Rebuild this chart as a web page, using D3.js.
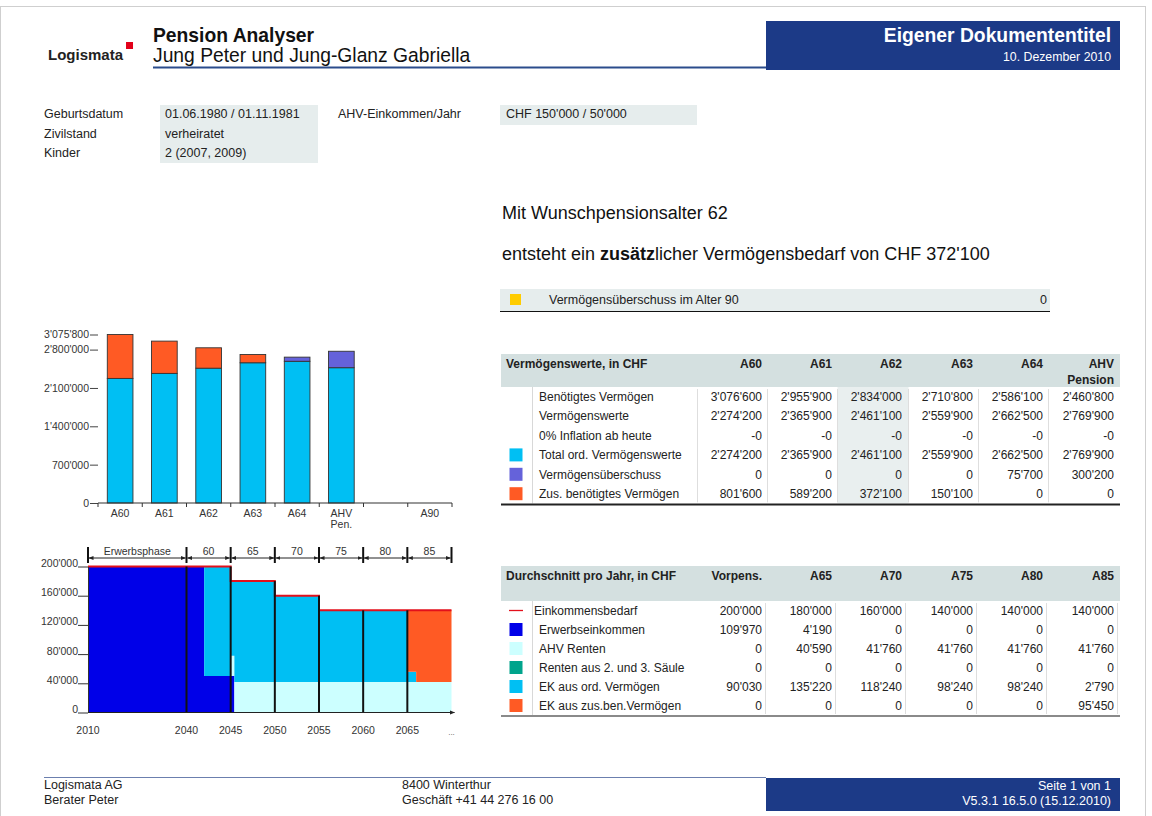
<!DOCTYPE html>
<html>
<head>
<meta charset="utf-8">
<script src="https://cdn.jsdelivr.net/npm/d3@7"></script>
<style>
  body { margin: 0; background: #fff; }
  svg { display: block; font-family: "Liberation Sans", Arial, Helvetica, sans-serif; }
</style>
</head>
<body>
<div id="page"></div>
<script>
// ---------- data ----------
const personLabels = ['Geburtsdatum', 'Zivilstand', 'Kinder'];
const personValues = ['01.06.1980 / 01.11.1981', 'verheiratet', '2 (2007, 2009)'];
const incomeLabel = 'AHV-Einkommen/Jahr';
const incomeValue = "CHF 150'000 / 50'000";

// asset table (Vermögenswerte)
const assetCols = [['A60'], ['A61'], ['A62'], ['A63'], ['A64'], ['AHV', 'Pension']];
const assetNeeded = [3076600, 2955900, 2834000, 2710800, 2586100, 2460800];
const assetValues = [2274200, 2365900, 2461100, 2559900, 2662500, 2769900];
const assetInflation = [-0, -0, -0, -0, -0, -0];
const assetTotalOrd = [2274200, 2365900, 2461100, 2559900, 2662500, 2769900];
const assetSurplus = [0, 0, 0, 0, 75700, 300200];
const assetAdditional = [801600, 589200, 372100, 150100, 0, 0];

// bar chart categories
const barLabels = [['A60'], ['A61'], ['A62'], ['A63'], ['A64'], ['AHV', 'Pen.'], [''], ['A90']];

// yearly averages table
const avgCols = [['Vorpens.'], ['A65'], ['A70'], ['A75'], ['A80'], ['A85']];
const avgNeed = [200000, 180000, 160000, 140000, 140000, 140000];
const avgErwerb = [109970, 4190, 0, 0, 0, 0];
const avgAhv = [0, 40590, 41760, 41760, 41760, 41760];
const avgRenten = [0, 0, 0, 0, 0, 0];
const avgEkOrd = [90030, 135220, 118240, 98240, 98240, 2790];
const avgEkZus = [0, 0, 0, 0, 0, 95450];

// income flow over time (step values)
const flowYears  = [2010, 2042, 2045, 2045.42, 2050, 2055, 2065, 2066, 2070];
const flowNeed   = [200000, 200000, 180000, 180000, 160000, 140000, 140000, 140000, 140000];
const flowErwerb = [200000, 50000, 50000, 0, 0, 0, 0, 0, 0];
const flowAhv    = [0, 0, 27800, 41760, 41760, 41760, 41760, 41760, 41760];
const flowRenten = [0, 0, 0, 0, 0, 0, 0, 0, 0];
const flowEkOrd  = [0, 150000, 102200, 138240, 118240, 98240, 13950, 0, 0];
const flowEkZus  = [0, 0, 0, 0, 0, 0, 84290, 98240, 98240];

const phaseLabels = ['Erwerbsphase', '60', '65', '70', '75', '80', '85'];
const phaseBounds = [2010, 2040, 2045, 2050, 2055, 2060, 2065, 2070];
const dividerYears = [2040, 2045, 2050, 2055, 2060, 2065];
const flowTickYears = [2010, 2040, 2045, 2050, 2055, 2060, 2065];

// colours
const colors = {
    navy: '#1c3a87',
    erwerb: '#0000e8',
    ahv: '#ccffff',
    renten: '#00a48c',
    ekOrd: '#00bff3',
    ekZus: '#ff5a24',
    surplus: '#6562da',
    need: '#e3101b',
    yellow: '#ffcc00',
    headGrey: '#d4e0e0',
    boxGrey: '#e6eded'
};

const baseFmt = d3.formatLocale({decimal: '.', thousands: "'", grouping: [3], currency: ['', ''], minus: '-'}).format(',');
// keep the "-0" that the report prints for negative zero
const fmt = v => (Object.is(v, -0) ? '-0' : baseFmt(v));

// ---------- page ----------
const svg = d3.select('#page').append('svg')
    .attr('width', 1152)
    .attr('height', 816);

svg.append('rect').attr('x', 0.5).attr('y', 6.5).attr('width', 1145).attr('height', 815)
    .attr('fill', '#fff').attr('stroke', '#cfcfcf');

// header
const logo = svg.append('text').attr('x', 48).attr('y', 60).attr('font-size', 15).attr('font-weight', 'bold')
    .attr('fill', '#222').text('Logismata');
const logoEnd = 48 + logo.node().getComputedTextLength();
svg.append('rect').attr('x', logoEnd + 3).attr('y', 42).attr('width', 7).attr('height', 7).attr('fill', '#e2001a');
svg.append('text').attr('x', 153).attr('y', 42).attr('font-size', 19.3).attr('font-weight', 'bold')
    .attr('fill', '#111').text('Pension Analyser');
svg.append('text').attr('x', 153).attr('y', 61.5).attr('font-size', 19.3)
    .attr('fill', '#111').text('Jung Peter und Jung-Glanz Gabriella');
svg.append('line').attr('x1', 153).attr('x2', 766).attr('y1', 67.5).attr('y2', 67.5)
    .attr('stroke', '#2b4c8c').attr('stroke-width', 2);
svg.append('rect').attr('x', 766).attr('y', 21).attr('width', 354).attr('height', 49).attr('fill', colors.navy);
svg.append('text').attr('x', 1111).attr('y', 42).attr('text-anchor', 'end').attr('font-size', 19.3)
    .attr('font-weight', 'bold').attr('fill', '#fff').text('Eigener Dokumententitel');
svg.append('text').attr('x', 1111).attr('y', 61).attr('text-anchor', 'end').attr('font-size', 12.3)
    .attr('fill', '#fff').text('10. Dezember 2010');

// personal data
svg.append('rect').attr('x', 160).attr('y', 105).attr('width', 158).attr('height', 58).attr('fill', colors.boxGrey);
svg.append('rect').attr('x', 500).attr('y', 105).attr('width', 197).attr('height', 20).attr('fill', colors.boxGrey);
const personG = svg.append('g').attr('font-size', 12.5).attr('fill', '#222');
personLabels.forEach((l, i) => {
    personG.append('text').attr('x', 44).attr('y', 118 + i * 19.5).text(l);
    personG.append('text').attr('x', 165).attr('y', 118 + i * 19.5).text(personValues[i]);
});
personG.append('text').attr('x', 338).attr('y', 118).text(incomeLabel);
personG.append('text').attr('x', 506).attr('y', 118).text(incomeValue);

// summary text
svg.append('text').attr('x', 502).attr('y', 219).attr('font-size', 18).attr('fill', '#111')
    .text('Mit Wunschpensionsalter 62');
const summary = svg.append('text').attr('x', 502).attr('y', 260).attr('font-size', 18).attr('fill', '#111');
summary.append('tspan').text('entsteht ein ');
summary.append('tspan').attr('font-weight', 'bold').text('zusätz');
summary.append('tspan').text("licher Vermögensbedarf von CHF " + fmt(assetAdditional[2]));

svg.append('rect').attr('x', 500).attr('y', 289).attr('width', 550).attr('height', 22).attr('fill', colors.boxGrey);
svg.append('line').attr('x1', 500).attr('x2', 1050).attr('y1', 311.5).attr('y2', 311.5).attr('stroke', '#111').attr('stroke-width', 1.2);
svg.append('rect').attr('x', 510).attr('y', 294).attr('width', 11).attr('height', 11).attr('fill', colors.yellow);
svg.append('text').attr('x', 549).attr('y', 304).attr('font-size', 12.5).attr('fill', '#222').text('Vermögensüberschuss im Alter 90');
svg.append('text').attr('x', 1047).attr('y', 304).attr('text-anchor', 'end').attr('font-size', 12.5).attr('fill', '#222').text(fmt(0));

// ---------- top bar chart ----------
const barRows = barLabels.map((l, i) => ({
    base: i < assetTotalOrd.length ? assetTotalOrd[i] - assetSurplus[i] : 0,
    surplus: i < assetSurplus.length ? assetSurplus[i] : 0,
    additional: i < assetAdditional.length ? assetAdditional[i] : 0
}));
const barKeys = ['base', 'surplus', 'additional'];
const barColors = {base: colors.ekOrd, surplus: colors.surplus, additional: colors.ekZus};

const barX = d3.scaleBand().domain(d3.range(barLabels.length)).range([98, 452])
    .paddingInner(0.42).paddingOuter(0.21);
const barMax = d3.max(barRows, d => d.base + d.surplus + d.additional);
const barY = d3.scaleLinear().domain([0, barMax]).range([503, 334.5]);

const barG = svg.append('g');
const barStack = d3.stack().keys(barKeys)(barRows);
barStack.forEach(layer => {
    barG.append('g').selectAll('rect')
        .data(layer.map((d, i) => ({d, i})).filter(o => o.d[1] - o.d[0] > 0))
        .join('rect')
        .attr('x', o => barX(o.i))
        .attr('width', barX.bandwidth())
        .attr('y', o => barY(o.d[1]))
        .attr('height', o => barY(o.d[0]) - barY(o.d[1]))
        .attr('fill', barColors[layer.key])
        .attr('stroke', '#333')
        .attr('stroke-width', 0.9);
});

const barYAxis = barG.append('g').attr('transform', 'translate(98,0)')
    .call(d3.axisLeft(barY)
        .tickValues([0, 700000, 1400000, 2100000, 2800000, barMax])
        .tickFormat(fmt).tickSize(8).tickPadding(1));
barYAxis.select('.domain').remove();
barYAxis.selectAll('text').attr('font-size', 10.5).attr('fill', '#333').attr('font-family', null);
barYAxis.selectAll('line').attr('stroke', '#444');

const step = barX.step();
const barBase = barX.range()[0];
barG.append('line').attr('x1', barBase).attr('x2', barX.range()[1]).attr('y1', 503).attr('y2', 503)
    .attr('stroke', '#333').attr('stroke-width', 1.2);
barG.selectAll('.btick').data(d3.range(barLabels.length + 1)).join('line')
    .attr('x1', i => barBase + i * step).attr('x2', i => barBase + i * step)
    .attr('y1', 503).attr('y2', 507).attr('stroke', '#333');
barLabels.forEach((lines, i) => {
    const t = barG.append('text').attr('text-anchor', 'middle').attr('font-size', 10.5).attr('fill', '#333');
    lines.forEach((s, k) => t.append('tspan')
        .attr('x', barX(i) + barX.bandwidth() / 2).attr('y', 517 + k * 10.5).text(s));
});

// ---------- tables ----------
const colRights = [762, 832, 902, 973, 1043, 1114];
const colBounds = [697, 767, 837, 908, 978, 1048];

function drawTable(cfg) {
    const g = svg.append('g').attr('font-size', 12).attr('fill', '#222');
    const bodyTop = cfg.top + cfg.headH;
    const bottom = bodyTop + cfg.rows.length * cfg.rowH;
    g.append('rect').attr('x', 501).attr('y', cfg.top).attr('width', 619).attr('height', cfg.headH)
        .attr('fill', colors.headGrey);
    if (cfg.highlight != null) {
        g.append('rect').attr('x', colBounds[cfg.highlight] + 0.5).attr('y', bodyTop)
            .attr('width', colBounds[cfg.highlight + 1] - colBounds[cfg.highlight]).attr('height', bottom - bodyTop)
            .attr('fill', '#e9efef');
    }
    g.append('text').attr('x', 506).attr('y', cfg.top + 14).attr('font-weight', 'bold').text(cfg.title);
    cfg.cols.forEach((lines, c) => {
        lines.forEach((s, k) => g.append('text').attr('x', colRights[c]).attr('y', cfg.top + 14 + k * 16)
            .attr('text-anchor', 'end').attr('font-weight', 'bold').text(s));
    });
    // separators
    g.append('line').attr('x1', 532.5).attr('x2', 532.5).attr('y1', bodyTop).attr('y2', bottom)
        .attr('stroke', '#d8d8d8');
    cfg.seps.forEach(x => g.append('line').attr('x1', x + 0.5).attr('x2', x + 0.5)
        .attr('y1', bodyTop + 2).attr('y2', bottom - 1).attr('stroke', '#dedede'));
    cfg.rows.forEach((r, i) => {
        const cy = bodyTop + i * cfg.rowH + cfg.rowH / 2;
        if (r.swatch) {
            g.append('rect').attr('x', 509.5).attr('y', cy - 6.5).attr('width', 13).attr('height', 13)
                .attr('fill', r.swatch);
        }
        if (r.lineSwatch) {
            g.append('line').attr('x1', 509).attr('x2', 523).attr('y1', cy).attr('y2', cy)
                .attr('stroke', r.lineSwatch).attr('stroke-width', 1.3);
        }
        g.append('text').attr('x', r.lineSwatch ? 534 : 539).attr('y', cy + 4.3).text(r.label);
        r.values.forEach((v, c) => g.append('text').attr('x', colRights[c]).attr('y', cy + 4.3)
            .attr('text-anchor', 'end').text(fmt(v)));
    });
    g.append('line').attr('x1', 501).attr('x2', 1120).attr('y1', bottom + 1).attr('y2', bottom + 1)
        .attr('stroke', cfg.bottomColor).attr('stroke-width', 2);
}

drawTable({
    top: 354, headH: 33, rowH: 19.4,
    title: 'Vermögenswerte, in CHF',
    cols: assetCols,
    highlight: 2,
    seps: colBounds,
    bottomColor: '#222',
    rows: [
        {label: 'Benötigtes Vermögen', values: assetNeeded},
        {label: 'Vermögenswerte', values: assetValues},
        {label: '0% Inflation ab heute', values: assetInflation},
        {label: 'Total ord. Vermögenswerte', values: assetTotalOrd, swatch: colors.ekOrd},
        {label: 'Vermögensüberschuss', values: assetSurplus, swatch: colors.surplus},
        {label: 'Zus. benötigtes Vermögen', values: assetAdditional, swatch: colors.ekZus}
    ]
});

drawTable({
    top: 566, headH: 35, rowH: 19,
    title: 'Durchschnitt pro Jahr, in CHF',
    cols: avgCols,
    highlight: null,
    seps: colRights.map(x => x + 3),
    bottomColor: '#8a8a8a',
    rows: [
        {label: 'Einkommensbedarf', values: avgNeed, lineSwatch: colors.need},
        {label: 'Erwerbseinkommen', values: avgErwerb, swatch: colors.erwerb},
        {label: 'AHV Renten', values: avgAhv, swatch: colors.ahv},
        {label: 'Renten aus 2. und 3. Säule', values: avgRenten, swatch: colors.renten},
        {label: 'EK aus ord. Vermögen', values: avgEkOrd, swatch: colors.ekOrd},
        {label: 'EK aus zus.ben.Vermögen', values: avgEkZus, swatch: colors.ekZus}
    ]
});

// ---------- income flow chart ----------
const flowRows = flowYears.map((yr, i) => ({
    year: yr, erwerb: flowErwerb[i], ahv: flowAhv[i], renten: flowRenten[i],
    ekOrd: flowEkOrd[i], ekZus: flowEkZus[i], need: flowNeed[i]
}));
const flowKeys = ['erwerb', 'ahv', 'renten', 'ekOrd', 'ekZus'];
const flowX = d3.scaleLinear().domain([2010, 2040, 2070]).range([88, 186.5, 451.5]);
const flowY = d3.scaleLinear().domain([0, 200000]).range([712.5, 566.5]);

const flowG = svg.append('g');
const flowArea = d3.area().curve(d3.curveStepAfter)
    .x(d => flowX(d.data.year)).y0(d => flowY(d[0])).y1(d => flowY(d[1]));
flowG.selectAll('.layer').data(d3.stack().keys(flowKeys)(flowRows)).join('path')
    .attr('d', flowArea)
    .attr('fill', d => colors[d.key]);

flowG.append('path').datum(flowRows)
    .attr('d', d3.line().curve(d3.curveStepAfter).x(d => flowX(d.year)).y(d => flowY(d.need)))
    .attr('fill', 'none').attr('stroke', colors.need).attr('stroke-width', 2);

const needBefore = yr => flowNeed[d3.bisectLeft(flowYears, yr) - 1];
const needFrom = yr => flowNeed[d3.bisectRight(flowYears, yr) - 1];
flowG.selectAll('.divider').data(dividerYears).join('line')
    .attr('x1', d => flowX(d)).attr('x2', d => flowX(d))
    .attr('y1', flowY(0)).attr('y2', d => flowY(Math.max(needBefore(d), needFrom(d))))
    .attr('stroke', '#111').attr('stroke-width', 2);

const flowYAxis = flowG.append('g').attr('transform', `translate(${flowX(2010)},0)`)
    .call(d3.axisLeft(flowY).tickValues(d3.range(0, 200001, 40000))
        .tickFormat(fmt).tickSize(10).tickSizeOuter(0).tickPadding(0));
flowYAxis.selectAll('text').attr('dy', 0).attr('font-size', 10.5).attr('fill', '#333').attr('font-family', null);
flowYAxis.selectAll('line,path').attr('stroke', '#333');

// x axis with arrow
svg.append('defs').append('marker').attr('id', 'arr').attr('viewBox', '0 0 10 10')
    .attr('refX', 9).attr('refY', 5).attr('markerWidth', 5).attr('markerHeight', 5)
    .attr('orient', 'auto-start-reverse')
    .append('path').attr('d', 'M0,1L10,5L0,9Z').attr('fill', '#222');
flowG.append('line').attr('x1', flowX(2010)).attr('x2', flowX(2070) + 3)
    .attr('y1', flowY(0)).attr('y2', flowY(0)).attr('stroke', '#222').attr('stroke-width', 1)
    .attr('marker-end', 'url(#arr)');
flowG.selectAll('.xl').data(flowTickYears).join('text')
    .attr('x', d => flowX(d)).attr('y', 734).attr('text-anchor', 'middle')
    .attr('font-size', 10.5).attr('fill', '#333').text(d => d);
flowG.append('text').attr('x', flowX(2070)).attr('y', 735).attr('text-anchor', 'middle')
    .attr('font-size', 8).attr('fill', '#555').text('...');

// phase header
const phaseG = svg.append('g');
phaseG.selectAll('line.pt').data(phaseBounds).join('line')
    .attr('x1', d => flowX(d)).attr('x2', d => flowX(d)).attr('y1', 547).attr('y2', 563)
    .attr('stroke', '#111').attr('stroke-width', 2);
phaseLabels.forEach((l, i) => {
    const a = flowX(phaseBounds[i]), b = flowX(phaseBounds[i + 1]);
    phaseG.append('line').attr('x1', a + 1).attr('x2', b - 1).attr('y1', 558).attr('y2', 558)
        .attr('stroke', '#222').attr('stroke-width', 1)
        .attr('marker-start', 'url(#arr)').attr('marker-end', 'url(#arr)');
    phaseG.append('text').attr('x', (a + b) / 2).attr('y', 555).attr('text-anchor', 'middle')
        .attr('font-size', 10.5).attr('fill', '#333').text(l);
});

// ---------- footer ----------
svg.append('line').attr('x1', 44).attr('x2', 766).attr('y1', 777.5).attr('y2', 777.5)
    .attr('stroke', '#6b7fae').attr('stroke-width', 1);
svg.append('rect').attr('x', 766).attr('y', 778).attr('width', 354).attr('height', 33).attr('fill', colors.navy);
const footG = svg.append('g').attr('font-size', 12.5).attr('fill', '#222');
footG.append('text').attr('x', 44).attr('y', 789).text('Logismata AG');
footG.append('text').attr('x', 44).attr('y', 804).text('Berater Peter');
footG.append('text').attr('x', 402).attr('y', 789).text('8400 Winterthur');
footG.append('text').attr('x', 402).attr('y', 804).text('Geschäft +41 44 276 16 00');
footG.append('text').attr('x', 1111).attr('y', 790).attr('text-anchor', 'end').attr('fill', '#fff').text('Seite 1 von 1');
footG.append('text').attr('x', 1111).attr('y', 805).attr('text-anchor', 'end').attr('fill', '#fff').text('V5.3.1 16.5.0 (15.12.2010)');
</script>
</body>
</html>
